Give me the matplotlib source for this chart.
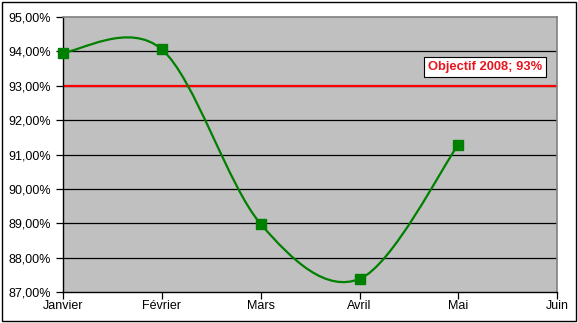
import matplotlib.pyplot as plt
from matplotlib.path import Path
from matplotlib.patches import PathPatch, Rectangle
from matplotlib.ticker import FuncFormatter

plt.rcParams['font.family'] = ['Liberation Sans', 'DejaVu Sans']

# donnees
mois = ['Janvier', 'Février', 'Mars', 'Avril', 'Mai', 'Juin']
taux = [93.97, 94.06, 88.98, 87.38, 91.29]
objectif = 93.0
label_objectif = 'Objectif 2008; 93%'

fig = plt.figure(figsize=(5.78, 3.23), dpi=100)
ax = fig.add_axes([0.109, 0.096, 0.855, 0.851])
ax.set_facecolor('#C0C0C0')

# lignes de grille
for v in range(88, 95):
    ax.axhline(v, color='black', linewidth=0.9, zorder=1)

# objectif
ax.axhline(objectif, color='#FF0000', linewidth=1.6, zorder=2)
ax.text(4.27, 93.55, label_objectif, color='#E8141E', fontsize=9.3, fontweight='bold',
        ha='center', va='center', zorder=5,
        bbox=dict(facecolor='white', edgecolor='black', linewidth=0.8, boxstyle='square,pad=0.3'))

# courbe lissee (bezier type Excel)
x = list(range(len(taux)))
pts = list(zip(x, taux))
verts = [pts[0]]
codes = [Path.MOVETO]
n = len(pts)
for i in range(n - 1):
    p0 = pts[i - 1] if i > 0 else pts[i]
    p1 = pts[i]
    p2 = pts[i + 1]
    p3 = pts[i + 2] if i + 2 < n else pts[i + 1]
    c1 = (p1[0] + (p2[0] - p0[0]) / 6, p1[1] + (p2[1] - p0[1]) / 6)
    c2 = (p2[0] - (p3[0] - p1[0]) / 6, p2[1] - (p3[1] - p1[1]) / 6)
    verts += [c1, c2, p2]
    codes += [Path.CURVE4] * 3
ax.add_patch(PathPatch(Path(verts, codes), facecolor='none', edgecolor='#008000',
                       linewidth=1.6, zorder=3))
ax.plot(x, taux, linestyle='none', marker='s', markersize=7.5, color='#008000',
        zorder=4, clip_on=False)

ax.set_xlim(0, len(mois) - 1)
ax.set_ylim(87, 95)
ax.set_xticks(range(len(mois)))
ax.set_xticklabels(mois)
ax.set_yticks(range(87, 96))
ax.yaxis.set_major_formatter(FuncFormatter(lambda v, p: f'{v:.2f}%'.replace('.', ',')))
ax.tick_params(axis='both', direction='out', length=5, width=0.9, color='black',
               labelsize=9, labelcolor='black')
ax.tick_params(axis='y', pad=4)
ax.tick_params(axis='x', pad=1)

for s in ['left', 'bottom']:
    ax.spines[s].set_color('black')
    ax.spines[s].set_linewidth(1.0)
for s in ['top', 'right']:
    ax.spines[s].set_color('#808080')
    ax.spines[s].set_linewidth(1.2)

# cadre exterieur
fig.patches.append(Rectangle((0.003, 0.005), 0.993, 0.99, transform=fig.transFigure,
                             fill=False, edgecolor='black', linewidth=1.0))

plt.savefig('out.png', dpi=100)
